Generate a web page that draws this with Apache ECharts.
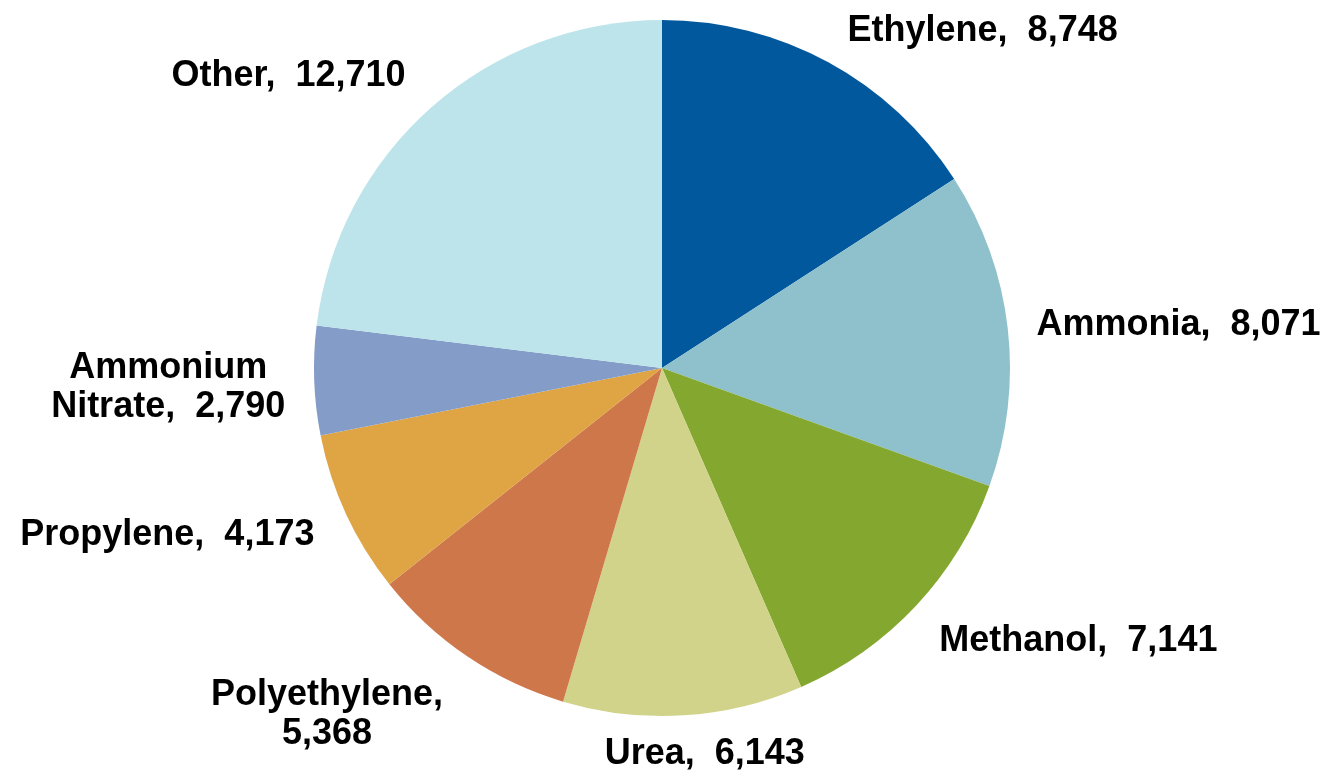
<!DOCTYPE html>
<html><head><meta charset="utf-8">
<script src="https://cdn.jsdelivr.net/npm/echarts@6/dist/echarts.min.js"></script>
<style>html,body{margin:0;padding:0;background:#fff}#c{width:1331px;height:775px}</style>
</head><body><div id="c"></div>
<script>
const categories = ['Ethylene', 'Ammonia', 'Methanol', 'Urea', 'Polyethylene', 'Propylene', 'Ammonium Nitrate', 'Other'];
const labelTexts = ['Ethylene,  8,748', 'Ammonia,  8,071', 'Methanol,  7,141', 'Urea,  6,143', 'Polyethylene,\n5,368', 'Propylene,  4,173', 'Ammonium\nNitrate,  2,790', 'Other,  12,710'];
const values = [8748, 8071, 7141, 6143, 5368, 4173, 2790, 12710];
const colors = ['#02589D', '#8EC1CB', '#84A82F', '#D1D38A', '#CE774A', '#DFA443', '#849DC8', '#BCE4EA'];

// small label nudges (style only), applied after the library's own pie label layout
const nudgeX = [2, -7, -3, -81, -4, 1, 7, -2];
const nudgeY = [0, 1, 11, 3, 28, 6, 6, -4];

const chart = echarts.init(document.getElementById('c'), null, {renderer: 'canvas'});
chart.setOption({
  animation: false,
  series: [{
    type: 'pie',
    center: [662, 368],
    radius: 348,
    startAngle: 90,
    clockwise: true,
    avoidLabelOverlap: false,
    data: categories.map((c, i) => ({name: c, value: values[i], itemStyle: {color: colors[i]}})),
    itemStyle: {borderWidth: 0},
    label: {
      show: true,
      position: 'outside',
      formatter: p => labelTexts[p.dataIndex],
      fontFamily: '"Liberation Sans", Arial, sans-serif',
      fontWeight: 'bold',
      fontSize: 36,
      lineHeight: 39,
      color: '#000',
      distanceToLabelLine: 0
    },
    labelLine: {show: false, length: 36, length2: 0},
    labelLayout: function (p) {
      const r = p.labelRect;
      const i = p.dataIndex;
      return {x: r.x + r.width / 2 + nudgeX[i], y: r.y + r.height / 2 + nudgeY[i], align: 'center', verticalAlign: 'middle'};
    }
  }]
});
</script></body></html>
